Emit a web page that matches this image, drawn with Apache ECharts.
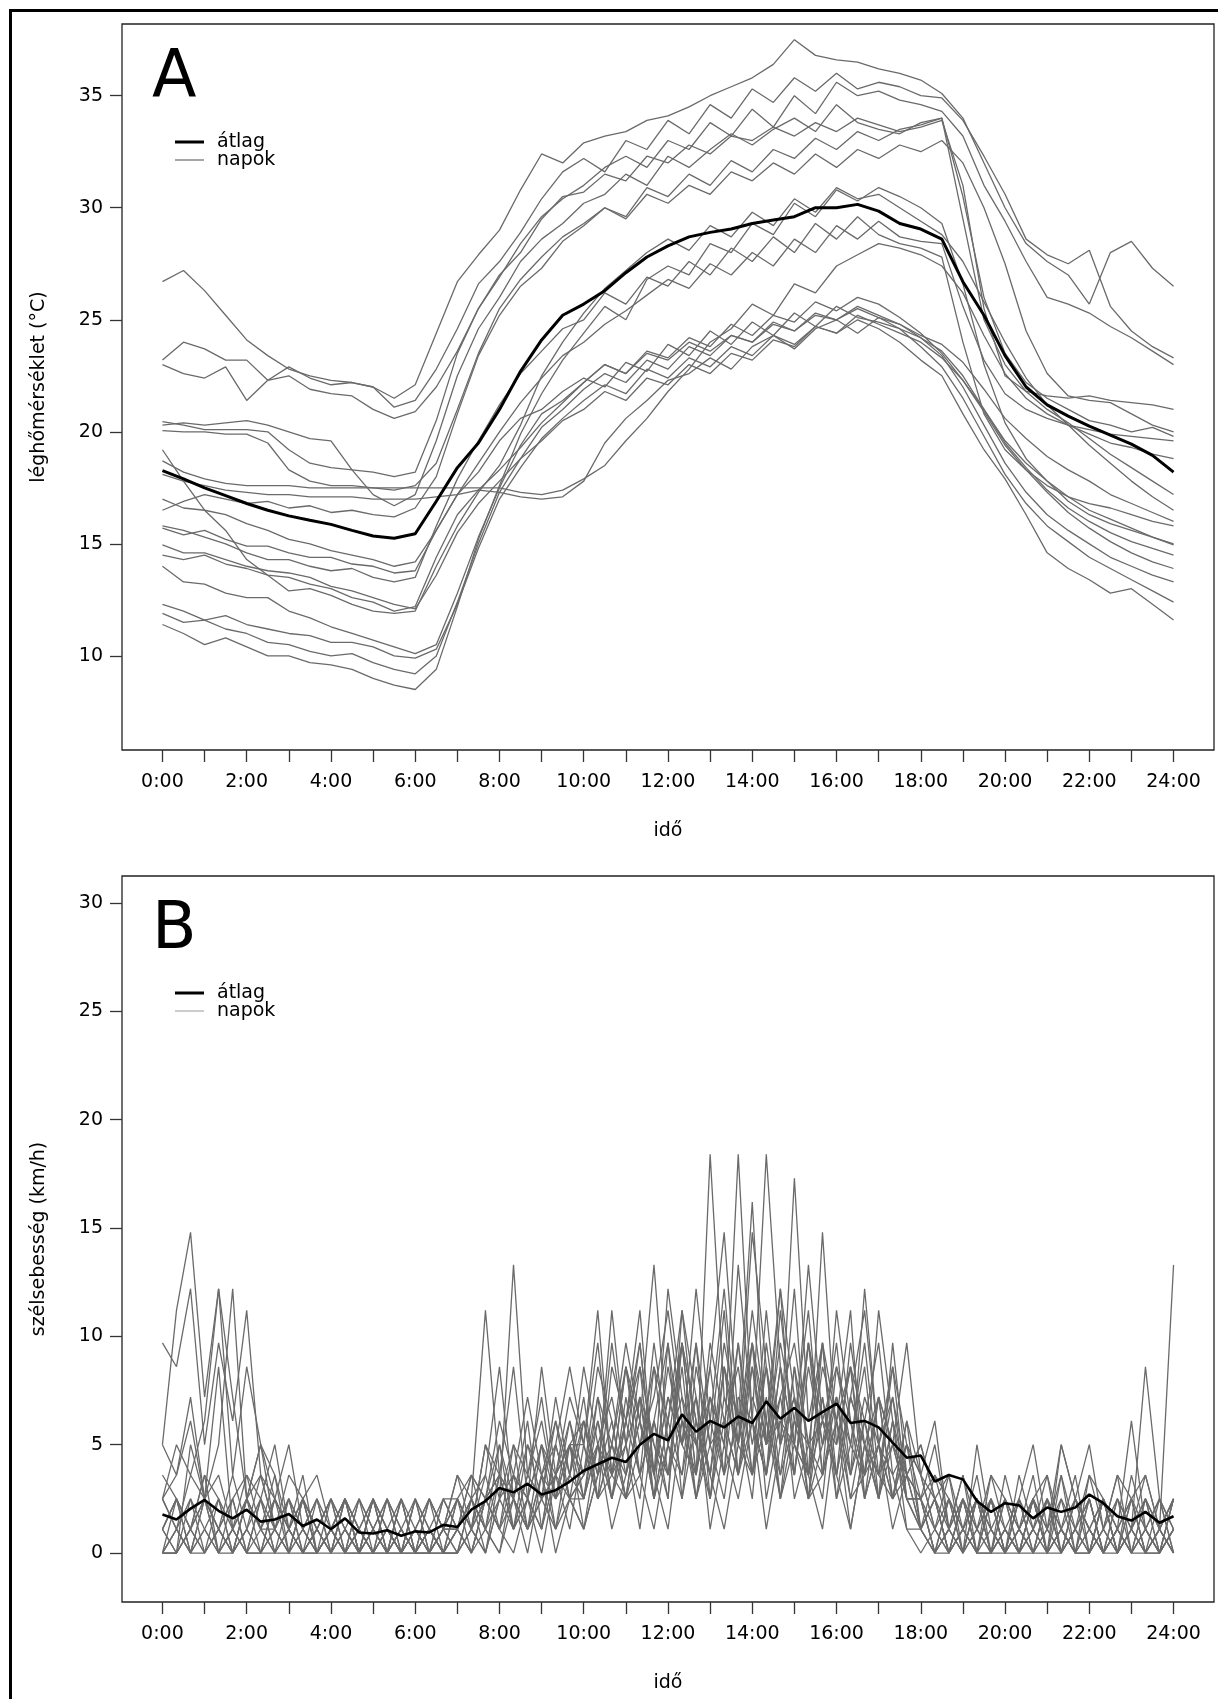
<!DOCTYPE html>
<html><head><meta charset="utf-8">
<script src="https://cdn.jsdelivr.net/npm/echarts@6/dist/echarts.min.js"></script>
<style>html,body{margin:0;padding:0;background:#fff}#c{width:1218px;height:1699px}</style>
</head><body><div id="c"></div>
<script>
// ---------- axes / ticks ----------
const xTickHours = [0,1,2,3,4,5,6,7,8,9,10,11,12,13,14,15,16,17,18,19,20,21,22,23,24];
const xLabelHours = [0,2,4,6,8,10,12,14,16,18,20,22,24];
const xLabels = ['0:00','2:00','4:00','6:00','8:00','10:00','12:00','14:00','16:00','18:00','20:00','22:00','24:00'];
const tempTicks = [10,15,20,25,30,35];
const windTicks = [0,5,10,15,20,25,30];

// ---------- sampling times (hours) ----------
const tempHours = [0,0.5,1,1.5,2,2.5,3,3.5,4,4.5,5,5.5,6,6.5,7,7.5,8,8.5,9,9.5,10,10.5,11,11.5,12,12.5,13,13.5,14,14.5,15,15.5,16,16.5,17,17.5,18,18.5,19,19.5,20,20.5,21,21.5,22,22.5,23,23.5,24];
const windHours = [0,0.333,0.667,1,1.333,1.667,2,2.333,2.667,3,3.333,3.667,4,4.333,4.667,5,5.333,5.667,6,6.333,6.667,7,7.333,7.667,8,8.333,8.667,9,9.333,9.667,10,10.333,10.667,11,11.333,11.667,12,12.333,12.667,13,13.333,13.667,14,14.333,14.667,15,15.333,15.667,16,16.333,16.667,17,17.333,17.667,18,18.333,18.667,19,19.333,19.667,20,20.333,20.667,21,21.333,21.667,22,22.333,22.667,23,23.333,23.667,24];

// ---------- panel A: air temperature (°C) ----------
const tempMean = [18.27,17.9,17.5,17.15,16.8,16.5,16.25,16.05,15.87,15.6,15.35,15.25,15.45,16.9,18.4,19.5,21.0,22.7,24.1,25.2,25.7,26.3,27.1,27.8,28.3,28.7,28.9,29.05,29.3,29.45,29.6,30.0,30.0,30.15,29.85,29.3,29.05,28.6,26.7,25.2,23.4,22.0,21.2,20.7,20.25,19.85,19.45,18.95,18.2];
const tDay01 = [26.7,27.2,26.3,25.2,24.1,23.4,22.8,22.5,22.3,22.2,22.0,21.5,22.1,24.4,26.7,27.9,29.0,30.8,32.4,32.0,32.9,33.2,33.4,33.9,34.1,34.5,35.0,35.4,35.8,36.4,37.5,36.8,36.6,36.5,36.2,36.0,35.7,35.1,34.0,32.0,30.0,28.4,27.6,27.0,25.7,28.0,28.5,27.3,26.5];
const tDay02 = [23.2,24.0,23.7,23.2,23.2,22.3,22.9,22.4,22.1,22.2,22.0,21.1,21.4,22.8,24.6,26.6,27.6,28.9,30.4,31.6,32.2,31.6,33.0,32.6,33.9,33.3,34.6,34.0,35.3,34.7,35.8,35.2,36.0,35.3,35.6,35.4,35.0,34.9,33.9,32.3,30.6,28.6,27.9,27.5,28.1,25.6,24.5,23.8,23.3];
const tDay03 = [23.0,22.6,22.4,22.9,21.4,22.3,22.5,21.9,21.7,21.6,21.0,20.6,20.9,22.0,23.6,25.5,26.9,28.4,29.6,30.4,31.0,31.8,32.3,31.8,33.0,32.6,33.8,33.2,34.4,33.6,35.0,34.2,35.6,35.0,35.2,34.8,34.6,34.3,33.2,31.0,29.4,27.6,26.0,25.7,25.3,24.7,24.2,23.6,23.0];
const tDay04 = [20.45,20.3,20.1,20.1,20.1,20.0,19.2,18.6,18.4,18.3,18.2,18.0,18.2,20.5,23.5,25.5,27.0,28.0,29.5,30.5,30.7,31.5,31.2,32.3,32.0,32.8,32.4,33.2,33.0,33.6,33.2,33.8,33.4,34.0,33.7,33.4,33.6,33.9,31.0,25.5,22.5,21.8,21.6,21.5,21.6,21.4,21.3,21.2,21.0];
const tDay05 = [20.3,20.4,20.3,20.4,20.5,20.3,20.0,19.7,19.6,18.3,17.2,16.7,17.2,19.6,22.5,24.6,26.0,27.6,28.6,29.3,30.2,30.6,31.5,31.0,32.3,31.8,32.6,33.3,32.8,33.5,34.0,33.4,34.6,33.8,33.5,33.3,33.8,34.0,30.5,26.0,23.5,22.2,21.5,21.0,20.5,20.3,20.0,20.2,19.8];
const tDay06 = [20.05,20.0,20.0,19.9,19.9,19.5,18.3,17.8,17.6,17.6,17.5,17.4,17.6,18.6,21.0,23.5,25.5,26.8,27.8,28.7,29.3,30.0,29.5,30.6,30.2,31.0,30.6,31.6,31.2,32.0,31.5,32.4,31.8,32.6,32.2,32.8,32.5,33.0,32.0,30.0,27.5,24.5,22.6,21.6,21.4,21.3,20.8,20.3,20.0];
const tDay07 = [19.2,17.8,16.5,15.6,14.3,13.6,12.9,13.0,12.7,12.3,12.0,11.9,12.0,14.0,15.8,17.3,18.5,20.3,22.5,24.0,25.3,26.4,27.2,28.0,28.6,28.1,29.2,28.7,29.8,29.2,30.4,29.8,30.9,30.4,30.6,30.0,29.4,28.8,27.6,25.8,24.0,22.4,21.2,20.3,19.4,18.6,17.8,17.1,16.5];
const tDay08 = [18.7,18.2,17.9,17.7,17.6,17.6,17.6,17.5,17.5,17.5,17.5,17.5,17.5,17.5,17.5,17.5,17.5,17.3,17.2,17.4,17.9,18.5,19.6,20.6,21.8,22.8,24.0,24.6,25.7,25.2,26.6,26.2,27.4,27.9,28.4,28.2,27.9,27.4,26.2,24.3,22.6,21.5,20.8,20.3,19.9,19.5,19.3,19.0,18.8];
const tDay09 = [18.1,17.8,17.6,17.4,17.3,17.2,17.2,17.1,17.1,17.1,17.0,17.0,17.0,17.1,17.2,17.4,17.3,17.1,17.0,17.1,17.8,19.5,20.6,21.4,22.3,22.6,23.3,22.8,23.8,24.3,23.7,24.6,25.0,24.4,25.1,24.8,24.3,23.9,23.1,21.9,20.6,19.7,18.9,18.3,17.8,17.2,16.8,16.4,16.0];
const tDay10 = [17.0,16.6,16.5,16.3,15.9,15.6,15.2,15.0,14.7,14.5,14.3,14.0,14.2,15.6,17.2,18.6,20.0,21.3,22.4,23.4,24.0,24.8,25.4,26.1,26.8,26.4,27.5,27.0,28.0,27.4,28.6,28.0,29.2,28.6,29.4,28.7,28.5,28.4,25.6,23.2,21.7,21.0,20.6,20.3,20.1,19.9,19.8,19.7,19.6];
const tDay11 = [15.8,15.6,15.3,15.0,14.6,14.3,14.3,14.0,13.8,13.9,13.5,13.3,13.5,15.8,17.9,19.6,21.2,22.6,23.6,24.6,25.0,26.2,25.7,26.9,26.5,27.6,27.0,28.2,27.6,28.7,28.0,29.3,28.6,29.6,28.8,28.4,28.2,27.8,24.0,20.8,19.2,18.3,17.6,17.1,16.8,16.6,16.3,16.0,15.8];
const tDay12 = [15.7,15.4,15.6,15.2,14.9,14.9,14.6,14.4,14.4,14.1,14.0,13.7,13.8,15.6,17.2,18.2,19.6,20.6,21.0,21.8,22.4,22.0,23.1,22.7,23.9,23.4,24.5,23.9,24.9,24.3,25.3,24.7,25.6,25.1,24.9,24.6,24.2,23.6,22.5,21.0,19.6,18.6,17.8,17.1,16.5,16.1,15.7,15.3,14.95];
const tDay13 = [14.95,14.6,14.6,14.3,14.0,13.8,13.7,13.5,13.1,12.9,12.6,12.3,12.1,13.6,15.5,16.8,17.8,18.8,19.6,20.5,21.0,21.8,21.4,22.4,22.1,23.0,22.6,23.5,23.2,24.1,23.8,24.7,24.4,25.2,24.8,24.4,24.0,23.3,22.3,21.0,19.5,18.4,17.4,16.6,16.0,15.5,15.1,14.8,14.5];
const tDay14 = [14.5,14.3,14.5,14.1,13.9,13.6,13.5,13.2,13.0,12.6,12.4,12.0,12.2,14.4,16.3,17.4,18.3,19.3,20.4,21.3,22.2,23.0,22.6,23.6,23.3,24.2,23.8,24.8,24.3,25.2,24.9,25.8,25.4,26.0,25.7,25.1,24.4,23.5,22.3,20.9,19.4,18.3,17.3,16.4,15.7,15.1,14.6,14.2,13.9];
const tDay15 = [14.0,13.3,13.2,12.8,12.6,12.6,12.0,11.7,11.3,11.0,10.7,10.4,10.1,10.5,12.8,15.3,17.5,19.4,20.8,21.4,22.2,23.0,22.6,23.5,23.2,24.0,23.6,24.3,24.0,24.8,24.5,25.2,25.0,25.5,25.1,24.6,23.8,22.9,21.5,19.8,18.1,16.8,15.8,15.1,14.4,13.9,13.4,12.9,12.4];
const tDay16 = [12.3,12.0,11.6,11.8,11.4,11.2,11.0,10.9,10.6,10.6,10.4,10.0,9.9,10.3,12.3,14.8,17.0,18.4,19.7,20.6,21.4,22.1,21.7,22.8,22.4,23.3,22.9,23.8,23.4,24.3,23.9,24.7,24.4,25.0,24.6,24.0,23.2,22.5,20.8,19.2,17.9,16.3,14.6,13.9,13.4,12.8,13.0,12.3,11.6];
const tDay17 = [11.9,11.5,11.6,11.2,11.0,10.6,10.5,10.2,10.0,10.1,9.7,9.4,9.2,10.0,12.4,15.0,17.3,18.8,20.2,21.0,21.9,22.6,22.2,23.2,22.8,23.8,23.4,24.3,24.0,24.9,24.5,25.3,25.0,25.6,25.2,24.8,24.2,23.4,22.0,20.3,18.6,17.3,16.3,15.6,15.0,14.4,14.0,13.6,13.3];
const tDay18 = [11.4,11.0,10.5,10.8,10.4,10.0,10.0,9.7,9.6,9.4,9.0,8.7,8.5,9.4,12.2,15.2,17.6,19.9,21.7,23.2,24.4,25.6,25.0,26.8,27.4,27.0,28.4,28.0,29.3,28.8,30.2,29.6,30.8,30.3,30.9,30.5,30.0,29.3,26.6,23.0,20.4,18.8,17.8,16.9,16.3,15.9,15.6,15.3,15.0];
const tDay19 = [16.5,16.9,17.2,17.0,16.8,16.9,16.6,16.7,16.4,16.5,16.3,16.2,16.6,18.0,20.8,23.4,25.2,26.5,27.3,28.5,29.2,30.0,29.6,30.9,30.5,31.5,31.0,32.1,31.6,32.6,32.2,33.1,32.6,33.4,33.0,33.5,33.7,34.0,29.5,25.0,23.0,21.8,21.0,20.4,19.7,19.0,18.4,17.8,17.2];
const tempDays = [tDay01,tDay02,tDay03,tDay04,tDay05,tDay06,tDay07,tDay08,tDay09,tDay10,tDay11,tDay12,tDay13,tDay14,tDay15,tDay16,tDay17,tDay18,tDay19];

// ---------- panel B: wind speed (km/h) ----------
const windMean = [1.78,1.55,2.05,2.45,1.95,1.6,2.0,1.45,1.55,1.8,1.25,1.55,1.1,1.6,0.95,0.9,1.05,0.8,1.0,0.95,1.3,1.2,2.0,2.4,3.0,2.8,3.2,2.7,2.9,3.3,3.8,4.1,4.4,4.2,5.0,5.5,5.2,6.4,5.6,6.1,5.8,6.3,6.0,7.0,6.2,6.7,6.1,6.5,6.9,6.0,6.1,5.8,5.1,4.4,4.5,3.3,3.6,3.4,2.4,1.9,2.3,2.2,1.6,2.1,1.9,2.1,2.7,2.3,1.7,1.5,1.9,1.4,1.7];
const wDay01 = [9.7,8.6,12.2,5.0,9.7,6.1,11.2,3.6,2.5,5.0,1.1,2.5,0,1.1,0,2.5,1.1,0,1.1,0,2.5, 1.1,3.6,2.5,5.0,1.1,3.6,6.1,2.5,5.0, 3.6,7.2,2.5,6.1,9.7,3.6,8.6,5.0,12.2,6.1,3.6,9.7,5.0,8.6,2.5,6.1,11.2,3.6,7.2,5.0,8.6,2.5,6.1,3.6, 2.5,5.0,1.1,3.6,0,2.5,1.1,0,2.5,1.1,3.6,0,1.1,2.5,0,1.1,3.6,1.1,2.5];
const wDay02 = [5.0,11.2,14.8,7.2,12.2,3.6,8.6,5.0,2.5,1.1,3.6,0,1.1,2.5,0,0,1.1,2.5,0,1.1,0, 2.5,1.1,5.0,3.6,8.6,2.5,5.0,3.6,7.2, 5.0,9.7,3.6,8.6,6.1,13.3,5.0,9.7,3.6,8.6,14.8,6.1,9.7,5.0,12.2,7.2,3.6,8.6,6.1,11.2,2.5,7.2,5.0,9.7, 3.6,1.1,2.5,0,5.0,1.1,2.5,0,1.1,3.6,0,2.5,1.1,0,2.5,1.1,0,2.5,1.1];
const wDay03 = [1.1,2.5,0,1.1,2.5,1.1,0,2.5,1.1,0,0,1.1,2.5,0,1.1,0,0,1.1,0,0,1.1, 0,1.1,2.5,1.1,3.6,2.5,1.1,3.6,5.0, 2.5,6.1,3.6,8.6,5.0,7.2,11.2,6.1,3.6,18.4,7.2,5.0,9.7,6.1,12.2,3.6,8.6,5.0,7.2,2.5,6.1,9.7,3.6,5.0, 1.1,2.5,0,1.1,0,2.5,0,1.1,0,0,2.5,1.1,0,1.1,0,2.5,1.1,0,1.1];
const wDay04 = [2.5,3.6,7.2,2.5,5.0,12.2,2.5,1.1,3.6,0,2.5,1.1,0,1.1,2.5,1.1,0,0,1.1,2.5,0, 1.1,2.5,0,3.6,2.5,6.1,1.1,5.0,2.5, 6.1,3.6,9.7,5.0,2.5,8.6,6.1,11.2,5.0,7.2,3.6,13.3,6.1,18.4,8.6,5.0,9.7,3.6,6.1,8.6,2.5,5.0,7.2,3.6, 5.0,2.5,1.1,3.6,1.1,0,2.5,1.1,3.6,0,5.0,2.5,1.1,0,2.5,1.1,8.6,2.5,1.1];
const wDay05 = [0,1.1,2.5,0,1.1,0,2.5,1.1,0,1.1,0,2.5,1.1,0,0,1.1,2.5,0,1.1,0,1.1, 2.5,0,1.1,5.0,2.5,1.1,3.6,6.1,2.5, 3.6,5.0,2.5,7.2,3.6,6.1,9.7,2.5,8.6,5.0,11.2,3.6,7.2,5.0,9.7,6.1,3.6,14.8,5.0,8.6,6.1,3.6,7.2,2.5, 2.5,0,1.1,2.5,0,1.1,0,2.5,1.1,0,1.1,0,2.5,0,1.1,0,2.5,1.1,0];
const wDay06 = [1.1,0,5.0,2.5,8.6,1.1,3.6,2.5,5.0,1.1,2.5,3.6,1.1,2.5,0,1.1,2.5,1.1,0,2.5,1.1, 3.6,2.5,11.2,3.6,1.1,5.0,2.5,7.2,3.6, 8.6,5.0,2.5,6.1,11.2,3.6,7.2,5.0,9.7,2.5,6.1,8.6,3.6,11.2,5.0,7.2,2.5,9.7,6.1,3.6,12.2,5.0,2.5,6.1, 1.1,3.6,2.5,0,1.1,2.5,0,3.6,1.1,2.5,0,1.1,3.6,2.5,0,1.1,2.5,0,1.1];
const wDay07 = [2.5,1.1,0,2.5,1.1,2.5,0,1.1,1.1,2.5,0,1.1,0,2.5,1.1,0,1.1,0,2.5,0,0, 1.1,0,2.5,1.1,0,2.5,5.0,1.1,3.6, 2.5,5.0,7.2,3.6,6.1,2.5,9.7,5.0,7.2,3.6,8.6,6.1,2.5,9.7,5.0,12.2,3.6,6.1,8.6,5.0,3.6,7.2,2.5,5.0, 3.6,1.1,0,2.5,1.1,3.6,2.5,1.1,0,2.5,1.1,0,3.6,1.1,2.5,0,1.1,2.5,0];
const wDay08 = [0,0,1.1,0,2.5,0,1.1,0,0,2.5,1.1,0,1.1,0,2.5,0,0,1.1,0,0,1.1, 0,1.1,0,2.5,1.1,3.6,2.5,1.1,5.0, 1.1,3.6,6.1,2.5,5.0,8.6,3.6,6.1,2.5,7.2,5.0,9.7,3.6,6.1,2.5,8.6,5.0,3.6,11.2,6.1,2.5,5.0,3.6,1.1, 0,1.1,0,2.5,0,0,1.1,0,2.5,0,1.1,0,0,2.5,0,1.1,0,0,1.1];
const wDay09 = [3.6,2.5,1.1,3.6,2.5,0,2.5,3.6,1.1,2.5,1.1,0,2.5,1.1,0,2.5,1.1,0,0,1.1,2.5, 2.5,3.6,1.1,2.5,13.3,3.6,2.5,6.1,3.6, 7.2,2.5,5.0,9.7,6.1,3.6,12.2,7.2,5.0,8.6,3.6,6.1,16.2,5.0,7.2,3.6,9.7,6.1,5.0,8.6,3.6,11.2,6.1,2.5, 2.5,3.6,1.1,0,2.5,1.1,0,2.5,5.0,1.1,2.5,0,1.1,2.5,0,3.6,1.1,0,2.5];
const wDay10 = [0,1.1,0,0,1.1,2.5,0,0,1.1,0,2.5,0,1.1,0,0,2.5,0,1.1,0,1.1,0, 1.1,2.5,1.1,0,3.6,1.1,2.5,3.6,1.1, 5.0,2.5,3.6,5.0,1.1,6.1,3.6,8.6,2.5,5.0,6.1,3.6,9.7,2.5,6.1,5.0,3.6,7.2,2.5,5.0,9.7,3.6,5.0,2.5, 1.1,0,2.5,1.1,0,0,2.5,0,1.1,0,0,1.1,2.5,0,0,1.1,0,1.1,0];
const wDay11 = [1.1,2.5,1.1,3.6,0,1.1,2.5,0,1.1,2.5,0,1.1,2.5,1.1,0,1.1,0,2.5,1.1,0,0, 2.5,1.1,3.6,8.6,2.5,5.0,3.6,2.5,6.1, 3.6,8.6,6.1,2.5,7.2,5.0,3.6,9.7,6.1,2.5,7.2,5.0,14.8,8.6,3.6,6.1,5.0,9.7,2.5,7.2,5.0,3.6,8.6,5.0, 3.6,2.5,0,1.1,3.6,0,1.1,2.5,0,1.1,5.0,2.5,0,1.1,3.6,2.5,0,1.1,2.5];
const wDay12 = [0,0,2.5,1.1,0,1.1,0,2.5,0,1.1,0,0,1.1,2.5,0,0,1.1,0,2.5,1.1,0, 0,2.5,1.1,0,2.5,1.1,3.6,0,2.5, 1.1,3.6,5.0,2.5,3.6,1.1,5.0,2.5,6.1,3.6,1.1,5.0,3.6,7.2,2.5,5.0,3.6,1.1,6.1,2.5,3.6,5.0,1.1,3.6, 1.1,0,0,2.5,1.1,0,1.1,0,0,2.5,0,1.1,0,2.5,1.1,0,0,1.1,0];
const wDay13 = [2.5,5.0,3.6,6.1,12.2,7.2,2.5,5.0,1.1,3.6,2.5,1.1,0,2.5,1.1,2.5,0,1.1,2.5,0,1.1, 1.1,2.5,3.6,1.1,5.0,3.6,7.2,2.5,5.0, 6.1,3.6,11.2,5.0,7.2,2.5,6.1,9.7,3.6,7.2,5.0,18.4,6.1,3.6,8.6,5.0,13.3,6.1,3.6,7.2,5.0,2.5,9.7,3.6, 5.0,2.5,3.6,1.1,2.5,0,3.6,1.1,2.5,0,1.1,3.6,0,2.5,1.1,0,2.5,1.1,13.3];
const wDay14 = [1.1,0,1.1,2.5,0,0,1.1,2.5,0,0,1.1,0,0,1.1,0,2.5,0,0,1.1,0,2.5, 1.1,0,2.5,1.1,2.5,0,3.6,1.1,2.5, 2.5,5.0,1.1,3.6,6.1,2.5,5.0,3.6,7.2,1.1,5.0,2.5,6.1,3.6,8.6,2.5,5.0,6.1,3.6,1.1,5.0,7.2,2.5,3.6, 2.5,0,1.1,0,2.5,1.1,0,2.5,0,1.1,0,2.5,1.1,0,1.1,2.5,0,0,2.5];
const wDay15 = [0,2.5,1.1,0,1.1,3.6,1.1,0,2.5,1.1,0,1.1,2.5,0,1.1,0,2.5,1.1,0,2.5,1.1, 3.6,1.1,5.0,2.5,3.6,7.2,3.6,5.0,8.6, 5.0,11.2,3.6,6.1,8.6,5.0,2.5,11.2,7.2,3.6,9.7,6.1,3.6,8.6,5.0,17.3,6.1,9.7,3.6,7.2,11.2,5.0,2.5,6.1, 3.6,6.1,1.1,2.5,0,3.6,1.1,0,2.5,3.6,1.1,2.5,5.0,1.1,0,2.5,3.6,1.1,2.5];
const wDay16 = [1.1,2.5,0,1.1,0,2.5,3.6,1.1,0,1.1,2.5,0,1.1,0,2.5,1.1,0,2.5,0,1.1,0, 0,1.1,2.5,3.6,1.1,2.5,1.1,5.0,2.5, 3.6,6.1,2.5,5.0,9.7,3.6,7.2,5.0,3.6,9.7,6.1,3.6,8.6,5.0,6.1,3.6,9.7,5.0,7.2,3.6,6.1,2.5,5.0,3.6, 1.1,2.5,0,1.1,2.5,0,0,1.1,2.5,0,1.1,0,2.5,0,1.1,0,1.1,2.5,0];
const wDay17 = [2.5,1.1,3.6,2.5,1.1,0,2.5,1.1,2.5,0,1.1,2.5,0,0,1.1,2.5,1.1,0,2.5,1.1,0, 1.1,3.6,2.5,6.1,3.6,2.5,8.6,3.6,5.0, 5.0,2.5,8.6,6.1,3.6,9.7,5.0,7.2,2.5,6.1,12.2,5.0,8.6,3.6,7.2,9.7,5.0,2.5,8.6,6.1,3.6,7.2,5.0,2.5, 2.5,1.1,3.6,0,2.5,1.1,0,1.1,2.5,0,3.6,1.1,2.5,0,1.1,6.1,1.1,0,1.1];
const wDay18 = [0,1.1,0,2.5,1.1,0,1.1,3.6,1.1,0,2.5,0,1.1,0,1.1,0,2.5,0,1.1,2.5,1.1, 2.5,1.1,0,2.5,5.0,1.1,2.5,3.6,6.1, 2.5,7.2,5.0,3.6,8.6,2.5,6.1,3.6,9.7,5.0,2.5,7.2,6.1,3.6,11.2,5.0,2.5,7.2,3.6,9.7,5.0,2.5,6.1,1.1, 1.1,0,2.5,1.1,0,2.5,0,1.1,0,2.5,1.1,0,0,1.1,3.6,0,1.1,0,2.5];
const wDay19 = [5.0,3.6,6.1,2.5,3.6,1.1,2.5,5.0,3.6,1.1,2.5,1.1,0,2.5,1.1,0,1.1,0,0,1.1,0, 0,2.5,1.1,3.6,2.5,1.1,5.0,2.5,3.6, 6.1,2.5,5.0,8.6,3.6,6.1,2.5,9.7,6.1,3.6,8.6,5.0,11.2,6.1,3.6,8.6,2.5,5.0,9.7,3.6,7.2,5.0,8.6,2.5, 1.1,2.5,0,1.1,2.5,0,1.1,0,2.5,1.1,0,2.5,1.1,0,1.1,2.5,0,1.1,0];
const wDay20 = [0,0,1.1,2.5,0,1.1,0,0,2.5,1.1,0,0,1.1,2.5,0,1.1,0,2.5,0,0,1.1, 1.1,0,2.5,3.6,1.1,2.5,0,3.6,2.5, 1.1,5.0,3.6,2.5,7.2,3.6,1.1,6.1,5.0,2.5,8.6,3.6,6.1,1.1,5.0,7.2,2.5,3.6,6.1,1.1,5.0,3.6,2.5,5.0, 2.5,0,1.1,0,1.1,2.5,0,0,1.1,2.5,0,1.1,0,2.5,0,1.1,2.5,0,1.1];
const windDays = [wDay01,wDay02,wDay03,wDay04,wDay05,wDay06,wDay07,wDay08,wDay09,wDay10,wDay11,wDay12,wDay13,wDay14,wDay15,wDay16,wDay17,wDay18,wDay19,wDay20];

// ---------- text ----------
const panelA = 'A', panelB = 'B';
const legendMean = 'átlag', legendDays = 'napok';
const xTitle = 'idő';
const yTitleA = 'léghőmérséklet (°C)';
const yTitleB = 'szélsebesség (km/h)';

// ---------- build ----------
const FONT = 'DejaVu Sans';
const chart = echarts.init(document.getElementById('c'), null, {renderer: 'canvas', width: 1218, height: 1699});
function pairs(hours, vals) { return vals.map((v, i) => [hours[i], v]); }

function xAxisFor(gi) {
  return {
    type: 'value', gridIndex: gi, min: -0.96, max: 24.96, position: 'bottom',
    axisLine: {show: false, onZero: false}, splitLine: {show: false},
    axisTick: {show: true, inside: false, customValues: xTickHours, length: 12, lineStyle: {color: '#333', width: 1.3}},
    axisLabel: {show: true, customValues: xLabelHours, formatter: v => xLabels[xLabelHours.indexOf(v)],
      margin: 23, fontFamily: FONT, fontSize: 19, color: '#000'}
  };
}
function yAxisFor(gi, min, max, ticks) {
  return {
    type: 'value', gridIndex: gi, min: min, max: max, position: 'left',
    axisLine: {show: false, onZero: false}, splitLine: {show: false},
    axisTick: {show: true, inside: false, customValues: ticks, length: 12, lineStyle: {color: '#333', width: 1.3}},
    axisLabel: {show: true, customValues: ticks, margin: 19, fontFamily: FONT, fontSize: 19, color: '#000'}
  };
}

const series = [];
tempDays.forEach(d => series.push({
  type: 'line', xAxisIndex: 0, yAxisIndex: 0, data: pairs(tempHours, d),
  symbol: 'none', showSymbol: false, silent: true, z: 2,
  lineStyle: {color: '#6a6a6a', width: 1.3}
}));
series.push({
  type: 'line', xAxisIndex: 0, yAxisIndex: 0, data: pairs(tempHours, tempMean),
  symbol: 'none', showSymbol: false, silent: true, z: 3,
  lineStyle: {color: '#000', width: 3}
});
windDays.forEach(d => series.push({
  type: 'line', xAxisIndex: 1, yAxisIndex: 1, data: pairs(windHours, d),
  symbol: 'none', showSymbol: false, silent: true, z: 2,
  lineStyle: {color: '#6a6a6a', width: 1.3}
}));
series.push({
  type: 'line', xAxisIndex: 1, yAxisIndex: 1, data: pairs(windHours, windMean),
  symbol: 'none', showSymbol: false, silent: true, z: 3,
  lineStyle: {color: '#000', width: 2.6}
});

function txt(text, x, y, size, opts) {
  return Object.assign({
    type: 'text', x: x, y: y, silent: true,
    style: Object.assign({text: text, fontFamily: FONT, fontSize: size, fill: '#000',
      textAlign: 'left', align: 'left', textVerticalAlign: 'middle', verticalAlign: 'middle'}, (opts && opts.style) || {})
  }, (opts && opts.el) || {});
}
function legend(y0, daysColor) {
  return [
    {type: 'line', silent: true, shape: {x1: 175, y1: y0, x2: 204, y2: y0}, style: {stroke: '#000', lineWidth: 3}},
    {type: 'line', silent: true, shape: {x1: 175, y1: y0 + 18, x2: 204, y2: y0 + 18}, style: {stroke: daysColor, lineWidth: 1.5}},
    txt(legendMean, 217, y0, 19),
    txt(legendDays, 217, y0 + 18, 19)
  ];
}
const center = {textAlign: 'center', align: 'center'};

const graphic = [
  {type: 'rect', silent: true, shape: {x: 10.5, y: 10.5, width: 1400, height: 1900},
    style: {fill: 'none', stroke: '#000', lineWidth: 3}},
  txt(panelA, 152, 79, 65),
  txt(panelB, 152, 931, 65),
  ...legend(142, '#888'),
  ...legend(993, '#bbb'),
  txt(xTitle, 668, 831, 19, {style: center}),
  txt(xTitle, 668, 1683, 19, {style: center}),
  txt(yTitleA, 39, 387, 19, {style: center, el: {rotation: Math.PI / 2}}),
  txt(yTitleB, 39, 1239, 19, {style: center, el: {rotation: Math.PI / 2}})
];

chart.setOption({
  animation: false,
  backgroundColor: '#fff',
  grid: [
    {left: 122, top: 24, width: 1092, height: 726, show: true, borderColor: '#222', borderWidth: 1.3, backgroundColor: 'transparent', containLabel: false},
    {left: 122, top: 876, width: 1092, height: 726, show: true, borderColor: '#222', borderWidth: 1.3, backgroundColor: 'transparent', containLabel: false}
  ],
  xAxis: [xAxisFor(0), xAxisFor(1)],
  yAxis: [yAxisFor(0, 5.8, 38.2, tempTicks), yAxisFor(1, -2.26, 31.25, windTicks)],
  series: series,
  graphic: graphic
});
</script>
</body></html>
